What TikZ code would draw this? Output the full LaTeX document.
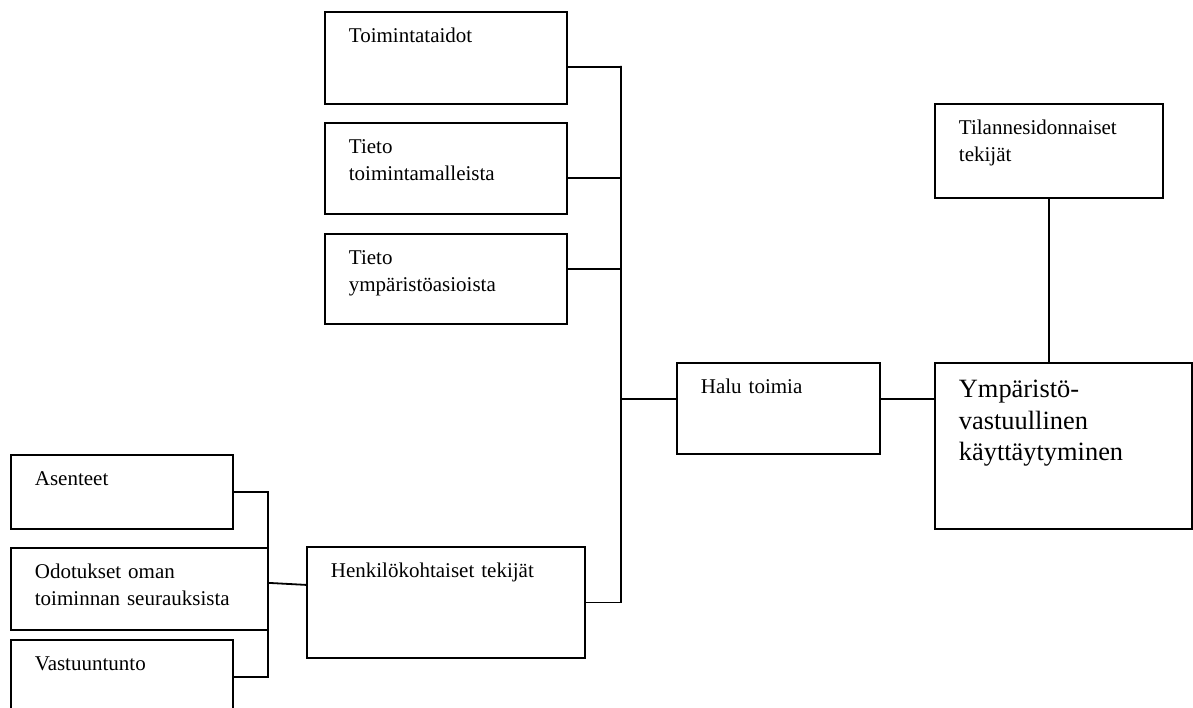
\documentclass[tikz,border=0pt]{standalone}
\usepackage{fontspec}
\setmainfont{Liberation Serif}
\usepackage{tikz}
\usetikzlibrary{calc}
\tikzset{ factor_box/.style = {rectangle, draw, line width=1.8pt, anchor=north west, inner xsep=24pt, inner ysep=0pt, align=left, text height=31pt, font=\fontsize{21}{26.7}\selectfont} }
\tikzset{ link/.style = {line width=1.8pt} }

\begin{document}
\begin{tikzpicture}[x=1pt,y=-1pt]
\useasboundingbox (0,0) rectangle (1193,708);
\node[factor_box, text width=194pt, text depth=61pt] (taidot) at (324,11) {Toimintataidot};
\node[factor_box, text width=194pt, text depth=60pt] (mallit) at (324,122) {Tieto\\toimintamalleista};
\node[factor_box, text width=194pt, text depth=59pt] (asiat) at (324,233) {Tieto\\ympäristöasioista};
\node[factor_box, text width=155pt, text depth=60pt] (halu) at (676,362) {Halu toimia};
\node[factor_box, text width=180pt, text depth=63pt] (tilanne) at (934,103) {Tilannesidonnaiset\\tekijät};
\node[factor_box, text width=209pt, text height=35pt, text depth=131pt, font=\fontsize{26.4}{31.5}\selectfont] (kaytos) at (934,362) {Ympäristö-\\vastuullinen\\käyttäytyminen};
\node[factor_box, text width=230pt, text depth=80pt] (henk) at (306,546) {Henkilökohtaiset tekijät};
\node[factor_box, text width=174pt, text depth=43pt] (asenteet) at (10,454) {Asenteet};
\node[factor_box, text width=209pt, text depth=51pt] (odotukset) at (10,547) {Odotukset oman\\toiminnan seurauksista};
\node[factor_box, text width=174pt, text depth=43pt] (vastuu) at (10,639) {Vastuuntunto};
\coordinate (bus) at (621,66);
\coordinate (sbus) at (268,491);
\draw[link] ([yshift=-9pt]taidot.east) -| (bus) -- (bus |- henk.east) -- (henk.east);
\draw[link] ([yshift=-9.5pt]mallit.east) -- ([yshift=-9.5pt]mallit.east -| bus);
\draw[link] ([yshift=10pt]asiat.east) -- ([yshift=10pt]asiat.east -| bus);
\draw[link] ([yshift=9.5pt]halu.west -| bus) -- ([yshift=9.5pt]halu.west);
\draw[link] ([yshift=9.5pt]halu.east) -- ([yshift=9.5pt]halu.east -| kaytos.west);
\draw[link] (tilanne.south) -- (tilanne.south |- kaytos.north);
\draw[link] (asenteet.east) -- (asenteet.east -| sbus) -- (vastuu.east -| sbus) -- (vastuu.east);
\draw[link] ([yshift=6pt]odotukset.east) -- ([yshift=17.5pt]henk.west);
\end{tikzpicture}
\end{document}
